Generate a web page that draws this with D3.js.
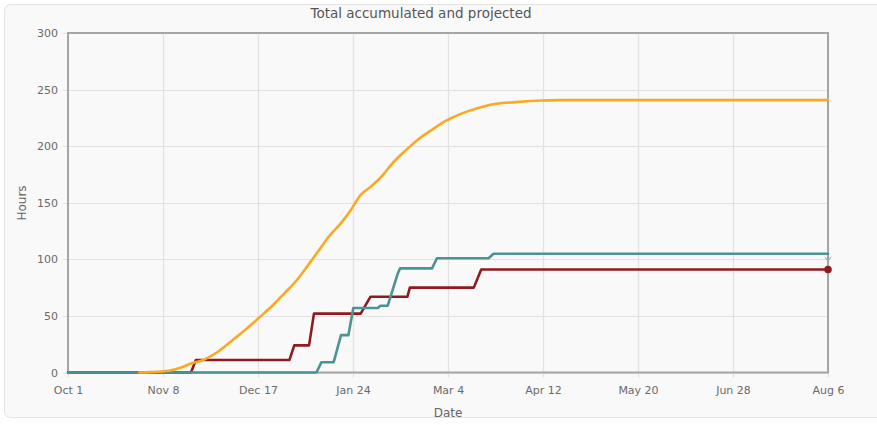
<!DOCTYPE html>
<html>
<head>
<meta charset="utf-8">
<script src="https://cdn.jsdelivr.net/npm/d3@7"></script>
<style>
  html, body { margin: 0; padding: 0; background: #ffffff; }
  svg { display: block; font-family: "DejaVu Sans", sans-serif; }
</style>
</head>
<body>
<svg id="chart" width="877" height="425"></svg>
<script>
// ---- data ----
const title = "Total accumulated and projected";
const xLabel = "Date";
const yLabel = "Hours";
const xDomain = ["2012-10-01", "2013-08-06"];
const xTickLabels = ["Oct 1", "Nov 8", "Dec 17", "Jan 24", "Mar 4", "Apr 12", "May 20", "Jun 28", "Aug 6"];
const yTicks = [0, 50, 100, 150, 200, 250, 300];

const projectedDates = ["2012-10-30","2012-11-03","2012-11-11","2012-11-16","2012-11-20","2012-11-25","2012-11-30","2012-12-06","2012-12-11","2012-12-18","2012-12-24","2012-12-28","2013-01-02","2013-01-07","2013-01-11","2013-01-15","2013-01-20","2013-01-24","2013-01-28","2013-02-01","2013-02-06","2013-02-10","2013-02-14","2013-02-17","2013-02-21","2013-02-26","2013-03-03","2013-03-08","2013-03-13","2013-03-19","2013-03-24","2013-04-01","2013-04-12","2013-04-20","2013-08-06"];
const projectedHours = [0, 0.3, 1.5, 4.4, 8, 11, 17, 27, 35.7, 49, 61, 70, 81.5, 96, 108, 120, 132, 143.6, 157, 164, 174.5, 185, 193.7, 199.6, 207, 214.4, 221.7, 227, 231.2, 235, 237.4, 238.9, 240.3, 240.7, 240.7];

const accumDates = ["2012-10-01","2012-11-20","2012-11-22","2012-12-30","2013-01-01","2013-01-07","2013-01-09","2013-01-28","2013-02-01","2013-02-16","2013-02-17","2013-03-15","2013-03-18","2013-08-06"];
const accumHours = [0, 0, 11, 11, 24, 24, 52, 52, 67, 67, 75, 75, 91, 91];

const teamDates = ["2012-10-01","2013-01-10","2013-01-12","2013-01-17","2013-01-20","2013-01-23","2013-01-25","2013-02-04","2013-02-05","2013-02-08","2013-02-12","2013-02-13","2013-02-26","2013-02-28","2013-03-21","2013-03-23","2013-08-06"];
const teamHours = [0, 0, 9, 9, 33, 33, 57, 57, 59, 59, 87, 92, 92, 101, 101, 105, 105];

// ---- layout ----
const W = 877, H = 425;
const m = { left: 68, right: 49, top: 33, bottom: 53 };
const parse = d3.timeParse("%Y-%m-%d");
const svg = d3.select("#chart");

svg.append("rect").attr("x", 4.5).attr("y", 4.5).attr("width", 890).attr("height", 413)
  .attr("rx", 6).attr("fill", "#f9f9f9").attr("stroke", "#e3e3e3");

const x = d3.scaleTime().domain(xDomain.map(parse)).range([m.left, W - m.right]);
const y = d3.scaleLinear().domain([0, 300]).range([H - m.bottom + 0.5, m.top]);

const [t0, t1] = x.domain().map(d => +d);
const xTickVals = xTickLabels.map((_, i) => new Date(t0 + (t1 - t0) * i / (xTickLabels.length - 1)));

// grid
const grid = svg.append("g");
grid.selectAll(".gy").data(yTicks).join("line")
  .attr("x1", m.left - 5).attr("x2", W - m.right)
  .attr("y1", d => Math.round(y(d)) + 0.5).attr("y2", d => Math.round(y(d)) + 0.5)
  .attr("stroke", "#e2e2e2").attr("stroke-width", 1.2);
grid.selectAll(".gx").data(xTickVals).join("line")
  .attr("x1", d => Math.round(x(d)) + 0.5).attr("x2", d => Math.round(x(d)) + 0.5)
  .attr("y1", m.top).attr("y2", y(0) + 5)
  .attr("stroke", "#e2e2e2").attr("stroke-width", 1.2);

// axes labels via d3 axes
const yAxis = d3.axisLeft(y).tickValues(yTicks).tickSize(0).tickPadding(10);
const gy = svg.append("g").attr("transform", `translate(${m.left},0)`).call(yAxis);
gy.select(".domain").remove();
gy.selectAll("text").attr("fill", "#6a6a6a").attr("font-size", 11).attr("font-family", "DejaVu Sans, sans-serif");

const xAxis = d3.axisBottom(x).tickValues(xTickVals).tickFormat((d, i) => xTickLabels[i]).tickSize(0).tickPadding(14);
const gx = svg.append("g").attr("transform", `translate(0,${y(0)})`).call(xAxis);
gx.select(".domain").remove();
gx.selectAll("text").attr("fill", "#6a6a6a").attr("font-size", 11).attr("font-family", "DejaVu Sans, sans-serif");

// frame
svg.append("rect").attr("x", m.left).attr("y", m.top)
  .attr("width", W - m.right - m.left).attr("height", y(0) - m.top)
  .attr("fill", "none").attr("stroke", "#a5a5a5").attr("stroke-width", 2);

// lines
const clip = svg.append("g");
function drawLine(dates, vals, color, curve) {
  const pts = dates.map((d, i) => [parse(d), vals[i]]);
  clip.append("path").datum(pts)
    .attr("fill", "none").attr("stroke", color).attr("stroke-width", 2.6)
    .attr("stroke-linejoin", "round").attr("stroke-linecap", "round")
    .attr("d", d3.line().curve(curve).x(d => x(d[0])).y(d => y(d[1])));
  return pts;
}
const accPts = drawLine(accumDates, accumHours, "#8e1b1f", d3.curveLinear);
const teamPts = drawLine(teamDates, teamHours, "#4d9394", d3.curveLinear);
const projPts = drawLine(projectedDates, projectedHours, "#fba823", d3.curveMonotoneX);

// end markers
const lastAcc = accPts[accPts.length - 1];
svg.append("circle").attr("cx", x(lastAcc[0])).attr("cy", y(lastAcc[1])).attr("r", 3.8).attr("fill", "#8e1b1f");
const lastTeam = teamPts[teamPts.length - 1];
svg.append("path")
  .attr("d", `M${x(lastTeam[0]) - 3},${y(lastTeam[1]) + 3} l1.5,3 l1.5,-3 M${x(lastTeam[0])},${y(lastTeam[1]) + 3} l1.5,3 l1.5,-3`)
  .attr("fill", "none").attr("stroke", "#9a9a9a").attr("stroke-width", 0.8);

// titles
svg.append("text").attr("x", 421).attr("y", 18).attr("text-anchor", "middle")
  .attr("font-size", 13.5).attr("fill", "#555").text(title);
svg.append("text").attr("x", 448).attr("y", 417).attr("text-anchor", "middle")
  .attr("font-size", 12).attr("fill", "#666").text(xLabel);
svg.append("text").attr("transform", "translate(26,203) rotate(-90)").attr("text-anchor", "middle")
  .attr("font-size", 12).attr("fill", "#666").text(yLabel);
</script>
</body>
</html>
